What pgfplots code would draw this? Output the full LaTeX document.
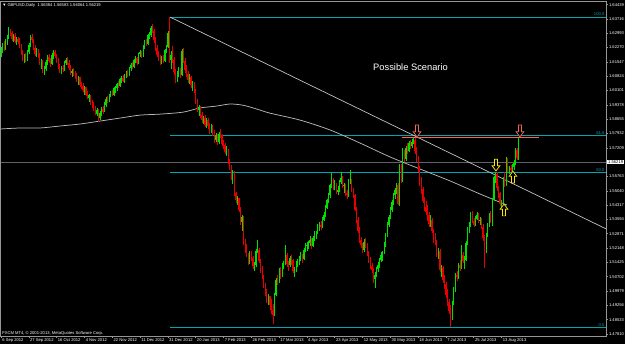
\documentclass[border=0pt]{standalone}
\usepackage{fontspec}
\setmainfont{Liberation Sans}
\usepackage{pgfplots}
\usepackage{pgfplotstable}
\pgfplotsset{compat=1.18}
\definecolor{cgreen}{RGB}{0,225,0}
\definecolor{cred}{RGB}{230,0,0}
\definecolor{fibc}{RGB}{0,165,175}
\definecolor{salm}{RGB}{240,105,85}
\definecolor{ylw}{RGB}{255,230,0}
\definecolor{axc}{RGB}{150,150,150}
\definecolor{trc}{RGB}{200,200,200}
\definecolor{mac}{RGB}{185,185,185}
\definecolor{cpl}{RGB}{95,98,105}
\pgfdeclareplotmark{dnarrow}{%
 \pgfpathmoveto{\pgfqpoint{-1.1pt}{4.4pt}}%
 \pgfpathlineto{\pgfqpoint{1.1pt}{4.4pt}}%
 \pgfpathlineto{\pgfqpoint{1.1pt}{-0.6pt}}%
 \pgfpathlineto{\pgfqpoint{2.9pt}{-0.6pt}}%
 \pgfpathlineto{\pgfqpoint{0pt}{-4.4pt}}%
 \pgfpathlineto{\pgfqpoint{-2.9pt}{-0.6pt}}%
 \pgfpathlineto{\pgfqpoint{-1.1pt}{-0.6pt}}%
 \pgfpathclose\pgfusepathqfillstroke}
\pgfdeclareplotmark{uparrow}{%
 \pgfpathmoveto{\pgfqpoint{-1.1pt}{-4.4pt}}%
 \pgfpathlineto{\pgfqpoint{1.1pt}{-4.4pt}}%
 \pgfpathlineto{\pgfqpoint{1.1pt}{0.6pt}}%
 \pgfpathlineto{\pgfqpoint{2.9pt}{0.6pt}}%
 \pgfpathlineto{\pgfqpoint{0pt}{4.4pt}}%
 \pgfpathlineto{\pgfqpoint{-2.9pt}{0.6pt}}%
 \pgfpathlineto{\pgfqpoint{-1.1pt}{0.6pt}}%
 \pgfpathclose\pgfusepathqfillstroke}
\pgfplotstableread{
o h l c
1.6195 1.6230 1.6180 1.6214
1.6214 1.6250 1.6200 1.6235
1.6235 1.6262 1.6210 1.6220
1.6220 1.6268 1.6215 1.6255
1.6255 1.6290 1.6240 1.6280
1.6280 1.6330 1.6270 1.6318
1.6318 1.6322 1.6285 1.6300
1.6300 1.6310 1.6260 1.6270
1.6270 1.6295 1.6255 1.6285
1.6285 1.6300 1.6250 1.6262
1.6262 1.6280 1.6240 1.6270
1.6270 1.6282 1.6245 1.6255
1.6255 1.6275 1.6225 1.6235
1.6235 1.6245 1.6190 1.6200
1.6200 1.6215 1.6160 1.6170
1.6170 1.6195 1.6150 1.6185
1.6185 1.6200 1.6155 1.6164
1.6164 1.6215 1.6160 1.6205
1.6205 1.6250 1.6195 1.6240
1.6240 1.6290 1.6230 1.6280
1.6280 1.6295 1.6250 1.6265
1.6265 1.6270 1.6215 1.6225
1.6225 1.6240 1.6185 1.6195
1.6195 1.6225 1.6180 1.6210
1.6210 1.6220 1.6175 1.6189
1.6189 1.6200 1.6140 1.6150
1.6150 1.6170 1.6120 1.6160
1.6160 1.6165 1.6100 1.6110
1.6110 1.6135 1.6090 1.6120
1.6120 1.6165 1.6110 1.6155
1.6155 1.6190 1.6140 1.6180
1.6180 1.6195 1.6150 1.6160
1.6160 1.6175 1.6130 1.6145
1.6145 1.6200 1.6140 1.6190
1.6190 1.6215 1.6170 1.6205
1.6205 1.6215 1.6175 1.6185
1.6185 1.6195 1.6150 1.6160
1.6160 1.6175 1.6120 1.6130
1.6130 1.6145 1.6100 1.6110
1.6110 1.6135 1.6095 1.6125
1.6125 1.6140 1.6105 1.6118
1.6118 1.6160 1.6110 1.6150
1.6150 1.6175 1.6140 1.6165
1.6165 1.6180 1.6140 1.6150
1.6150 1.6165 1.6115 1.6125
1.6125 1.6140 1.6090 1.6100
1.6100 1.6120 1.6080 1.6110
1.6110 1.6125 1.6085 1.6095
1.6095 1.6110 1.6070 1.6080
1.6080 1.6100 1.6055 1.6065
1.6065 1.6085 1.6040 1.6075
1.6075 1.6080 1.6030 1.6040
1.6040 1.6055 1.6020 1.6030
1.6030 1.6050 1.6005 1.6015
1.6015 1.6035 1.5990 1.6025
1.6025 1.6030 1.5980 1.5990
1.5990 1.6010 1.5965 1.5975
1.5975 1.5995 1.5950 1.5985
1.5985 1.5990 1.5935 1.5945
1.5945 1.5960 1.5920 1.5930
1.5930 1.5950 1.5905 1.5915
1.5915 1.5930 1.5885 1.5895
1.5895 1.5920 1.5880 1.5910
1.5910 1.5915 1.5852 1.5870
1.5870 1.5905 1.5860 1.5895
1.5895 1.5925 1.5880 1.5915
1.5915 1.5930 1.5890 1.5905
1.5905 1.5950 1.5900 1.5940
1.5940 1.5975 1.5925 1.5965
1.5965 1.5980 1.5945 1.5955
1.5955 1.5995 1.5950 1.5987
1.5987 1.6010 1.5975 1.6000
1.6000 1.6015 1.5980 1.5990
1.5990 1.6030 1.5985 1.6020
1.6020 1.6035 1.6000 1.6023
1.6023 1.6050 1.6010 1.6040
1.6040 1.6060 1.6025 1.6035
1.6035 1.6075 1.6030 1.6068
1.6068 1.6085 1.6050 1.6073
1.6073 1.6090 1.6055 1.6060
1.6060 1.6095 1.6050 1.6088
1.6088 1.6110 1.6075 1.6103
1.6103 1.6115 1.6080 1.6090
1.6090 1.6130 1.6085 1.6125
1.6125 1.6150 1.6110 1.6139
1.6139 1.6155 1.6120 1.6130
1.6130 1.6170 1.6125 1.6165
1.6165 1.6185 1.6150 1.6174
1.6174 1.6180 1.6140 1.6150
1.6150 1.6200 1.6145 1.6195
1.6195 1.6215 1.6180 1.6204
1.6204 1.6210 1.6175 1.6185
1.6185 1.6240 1.6180 1.6230
1.6230 1.6265 1.6220 1.6255
1.6255 1.6270 1.6235 1.6245
1.6245 1.6295 1.6240 1.6288
1.6288 1.6305 1.6270 1.6290
1.6290 1.6335 1.6280 1.6325
1.6325 1.6345 1.6300 1.6310
1.6310 1.6320 1.6250 1.6265
1.6265 1.6280 1.6210 1.6225
1.6225 1.6240 1.6180 1.6190
1.6190 1.6210 1.6160 1.6175
1.6175 1.6190 1.6140 1.6154
1.6154 1.6185 1.6145 1.6170
1.6170 1.6190 1.6150 1.6160
1.6160 1.6220 1.6155 1.6214
1.6214 1.6240 1.6200 1.6230
1.6230 1.6310 1.6225 1.6300
1.6378 1.6381 1.6150 1.6165
1.6165 1.6210 1.6120 1.6190
1.6190 1.6235 1.6150 1.6164
1.6164 1.6180 1.6090 1.6105
1.6105 1.6120 1.6050 1.6063
1.6063 1.6110 1.6055 1.6095
1.6095 1.6130 1.6080 1.6113
1.6113 1.6125 1.6075 1.6090
1.6090 1.6220 1.6085 1.6210
1.6210 1.6225 1.6150 1.6160
1.6160 1.6175 1.6100 1.6113
1.6113 1.6140 1.6080 1.6095
1.6095 1.6110 1.6050 1.6063
1.6063 1.6095 1.6045 1.6075
1.6075 1.6085 1.6025 1.6038
1.6038 1.6060 1.6010 1.6045
1.6045 1.6055 1.6000 1.6013
1.6013 1.6020 1.5940 1.5950
1.5950 1.5965 1.5900 1.5912
1.5912 1.5935 1.5880 1.5925
1.5925 1.5930 1.5870 1.5886
1.5886 1.5900 1.5845 1.5860
1.5860 1.5880 1.5840 1.5871
1.5871 1.5885 1.5825 1.5836
1.5836 1.5870 1.5820 1.5860
1.5860 1.5870 1.5815 1.5830
1.5830 1.5845 1.5790 1.5805
1.5805 1.5840 1.5795 1.5825
1.5825 1.5835 1.5780 1.5800
1.5800 1.5810 1.5745 1.5760
1.5760 1.5795 1.5750 1.5785
1.5785 1.5790 1.5735 1.5750
1.5750 1.5800 1.5740 1.5790
1.5790 1.5815 1.5770 1.5786
1.5786 1.5790 1.5730 1.5740
1.5740 1.5760 1.5715 1.5735
1.5735 1.5745 1.5690 1.5700
1.5700 1.5730 1.5680 1.5710
1.5710 1.5715 1.5640 1.5650
1.5650 1.5665 1.5610 1.5625
1.5625 1.5635 1.5560 1.5570
1.5570 1.5610 1.5540 1.5600
1.5600 1.5605 1.5480 1.5490
1.5490 1.5500 1.5440 1.5457
1.5457 1.5480 1.5430 1.5465
1.5465 1.5470 1.5395 1.5407
1.5407 1.5420 1.5330 1.5345
1.5345 1.5380 1.5300 1.5370
1.5370 1.5375 1.5230 1.5245
1.5245 1.5260 1.5190 1.5205
1.5205 1.5235 1.5170 1.5180
1.5180 1.5190 1.5130 1.5145
1.5145 1.5200 1.5135 1.5185
1.5185 1.5200 1.5150 1.5165
1.5165 1.5175 1.5110 1.5125
1.5125 1.5145 1.5100 1.5129
1.5129 1.5210 1.5120 1.5200
1.5200 1.5255 1.5190 1.5205
1.5205 1.5215 1.5140 1.5150
1.5150 1.5160 1.5090 1.5104
1.5104 1.5125 1.5060 1.5070
1.5070 1.5080 1.5015 1.5029
1.5029 1.5040 1.4975 1.4990
1.4990 1.5010 1.4940 1.4953
1.4953 1.4985 1.4930 1.4970
1.4970 1.4975 1.4900 1.4928
1.4928 1.4960 1.4880 1.4900
1.4900 1.4935 1.4830 1.4880
1.4880 1.4990 1.4870 1.4980
1.4980 1.5065 1.4975 1.5054
1.5054 1.5080 1.5030 1.5045
1.5045 1.5115 1.5040 1.5104
1.5104 1.5120 1.5060 1.5075
1.5075 1.5140 1.5070 1.5129
1.5129 1.5150 1.5110 1.5140
1.5140 1.5230 1.5130 1.5180
1.5180 1.5190 1.5120 1.5135
1.5135 1.5150 1.5100 1.5129
1.5129 1.5175 1.5120 1.5165
1.5165 1.5180 1.5130 1.5155
1.5155 1.5160 1.5090 1.5100
1.5100 1.5120 1.5070 1.5104
1.5104 1.5150 1.5095 1.5140
1.5140 1.5160 1.5120 1.5145
1.5145 1.5175 1.5130 1.5168
1.5168 1.5195 1.5150 1.5180
1.5180 1.5185 1.5140 1.5160
1.5160 1.5215 1.5155 1.5205
1.5205 1.5240 1.5195 1.5225
1.5225 1.5245 1.5200 1.5230
1.5230 1.5250 1.5210 1.5240
1.5240 1.5275 1.5225 1.5256
1.5256 1.5265 1.5210 1.5225
1.5225 1.5275 1.5220 1.5265
1.5265 1.5300 1.5250 1.5281
1.5281 1.5300 1.5260 1.5290
1.5290 1.5335 1.5285 1.5320
1.5320 1.5345 1.5300 1.5331
1.5331 1.5350 1.5305 1.5320
1.5320 1.5370 1.5315 1.5360
1.5360 1.5395 1.5350 1.5382
1.5382 1.5430 1.5370 1.5420
1.5420 1.5465 1.5410 1.5455
1.5455 1.5495 1.5440 1.5483
1.5483 1.5540 1.5470 1.5530
1.5530 1.5595 1.5520 1.5558
1.5558 1.5570 1.5510 1.5525
1.5525 1.5560 1.5510 1.5533
1.5533 1.5545 1.5490 1.5500
1.5500 1.5530 1.5485 1.5508
1.5508 1.5560 1.5500 1.5550
1.5550 1.5600 1.5540 1.5569
1.5569 1.5580 1.5520 1.5530
1.5530 1.5545 1.5495 1.5533
1.5533 1.5540 1.5480 1.5490
1.5490 1.5510 1.5465 1.5483
1.5483 1.5565 1.5475 1.5550
1.5550 1.5610 1.5540 1.5558
1.5558 1.5565 1.5500 1.5510
1.5510 1.5520 1.5470 1.5483
1.5483 1.5490 1.5400 1.5410
1.5410 1.5420 1.5340 1.5357
1.5357 1.5370 1.5290 1.5300
1.5300 1.5320 1.5240 1.5256
1.5256 1.5270 1.5215 1.5230
1.5230 1.5240 1.5190 1.5205
1.5205 1.5260 1.5195 1.5245
1.5245 1.5265 1.5215 1.5230
1.5230 1.5240 1.5175 1.5185
1.5185 1.5200 1.5140 1.5155
1.5155 1.5170 1.5110 1.5125
1.5125 1.5140 1.5090 1.5104
1.5104 1.5115 1.5040 1.5060
1.5060 1.5095 1.5014 1.5079
1.5079 1.5120 1.5070 1.5110
1.5110 1.5145 1.5095 1.5129
1.5129 1.5165 1.5115 1.5155
1.5155 1.5195 1.5145 1.5180
1.5180 1.5200 1.5150 1.5195
1.5195 1.5245 1.5185 1.5230
1.5230 1.5290 1.5220 1.5280
1.5280 1.5345 1.5270 1.5331
1.5331 1.5380 1.5320 1.5370
1.5370 1.5420 1.5360 1.5407
1.5407 1.5455 1.5395 1.5445
1.5445 1.5495 1.5430 1.5483
1.5483 1.5520 1.5465 1.5505
1.5505 1.5545 1.5490 1.5533
1.5533 1.5545 1.5430 1.5440
1.5440 1.5640 1.5425 1.5630
1.5630 1.5640 1.5545 1.5560
1.5560 1.5720 1.5550 1.5690
1.5690 1.5710 1.5650 1.5665
1.5665 1.5730 1.5655 1.5720
1.5720 1.5745 1.5690 1.5705
1.5705 1.5755 1.5700 1.5745
1.5745 1.5760 1.5715 1.5730
1.5730 1.5765 1.5720 1.5750
1.5750 1.5775 1.5740 1.5760
1.5760 1.5775 1.5690 1.5705
1.5705 1.5725 1.5650 1.5665
1.5665 1.5680 1.5600 1.5615
1.5615 1.5630 1.5530 1.5545
1.5545 1.5575 1.5490 1.5510
1.5510 1.5525 1.5440 1.5455
1.5455 1.5475 1.5400 1.5420
1.5420 1.5450 1.5380 1.5400
1.5400 1.5430 1.5350 1.5380
1.5380 1.5395 1.5320 1.5335
1.5335 1.5380 1.5320 1.5357
1.5357 1.5365 1.5290 1.5300
1.5300 1.5310 1.5240 1.5256
1.5256 1.5290 1.5230 1.5245
1.5245 1.5255 1.5170 1.5180
1.5180 1.5215 1.5160 1.5200
1.5200 1.5210 1.5095 1.5104
1.5104 1.5130 1.5070 1.5115
1.5115 1.5125 1.5040 1.5054
1.5054 1.5080 1.5010 1.5030
1.5030 1.5045 1.4965 1.4978
1.4978 1.5010 1.4920 1.4940
1.4940 1.4960 1.4880 1.4900
1.4900 1.4925 1.4814 1.4860
1.4860 1.4950 1.4850 1.4940
1.4940 1.5020 1.4930 1.5003
1.5003 1.5090 1.4995 1.5079
1.5079 1.5100 1.5050 1.5070
1.5070 1.5140 1.5060 1.5129
1.5129 1.5155 1.5100 1.5115
1.5115 1.5230 1.5110 1.5180
1.5180 1.5195 1.5140 1.5150
1.5150 1.5175 1.5110 1.5155
1.5155 1.5250 1.5150 1.5240
1.5240 1.5320 1.5230 1.5306
1.5306 1.5345 1.5290 1.5330
1.5330 1.5395 1.5320 1.5382
1.5382 1.5400 1.5340 1.5350
1.5350 1.5365 1.5320 1.5331
1.5331 1.5375 1.5325 1.5365
1.5365 1.5395 1.5355 1.5382
1.5382 1.5390 1.5340 1.5350
1.5350 1.5370 1.5330 1.5357
1.5357 1.5365 1.5310 1.5320
1.5320 1.5335 1.5250 1.5265
1.5265 1.5280 1.5115 1.5200
1.5200 1.5290 1.5190 1.5281
1.5281 1.5340 1.5270 1.5330
1.5330 1.5390 1.5320 1.5382
1.5382 1.5400 1.5340 1.5360
1.5340 1.5470 1.5325 1.5457
1.5457 1.5580 1.5450 1.5571
1.5571 1.5600 1.5545 1.5590
1.5590 1.5600 1.5505 1.5518
1.5518 1.5530 1.5470 1.5490
1.5490 1.5500 1.5425 1.5440
1.5440 1.5460 1.5415 1.5450
1.5450 1.5575 1.5440 1.5565
1.5565 1.5600 1.5525 1.5540
1.5540 1.5675 1.5530 1.5665
1.5665 1.5670 1.5600 1.5609
1.5609 1.5630 1.5590 1.5620
1.5620 1.5635 1.5600 1.5612
1.5612 1.5640 1.5600 1.5625
1.5625 1.5660 1.5610 1.5644
1.5644 1.5720 1.5635 1.5710
1.5710 1.5720 1.5660 1.5669
1.5669 1.5775 1.5660 1.5772
}\candles
\begin{document}
\begin{tikzpicture}
\useasboundingbox (0,0) rectangle (468.75pt,258pt);
\fill[black] (0,0) rectangle (468.75pt,258pt);
\begin{axis}[
  at={(0.375pt,6pt)}, anchor=south west,
  scale only axis, width=454.1pt, height=251.25pt,
  xmin=-0.32, xmax=391.6, ymin=1.4771, ymax=1.6462,
  axis line style={axc, line width=0.5pt},
  tick style={axc, line width=0.4pt},
  major tick length=1.5pt, tick align=outside,
  ytick pos=right, yticklabel pos=right, xtick pos=bottom,
  scaled y ticks=false,
  ytick={1.47810,1.48533,1.49256,1.49979,1.50702,1.51425,1.52148,1.52871,1.53594,1.54317,1.55040,1.55763,1.57209,1.57932,1.58655,1.59378,1.60101,1.60824,1.61547,1.62270,1.62993,1.63716,1.64439},
  yticklabel={\pgfmathprintnumber[fixed,precision=5,zerofill,assume math mode=true]{\tick}},
  yticklabel style={font=\fontsize{3.1}{3.5}\selectfont, text=white, anchor=west, inner sep=0.6pt},
  xtick={0,18,...,324},
  xticklabels={6 Sep 2012,27 Sep 2012,16 Oct 2012,4 Nov 2012,22 Nov 2012,11 Dec 2012,31 Dec 2012,20 Jan 2013,7 Feb 2013,26 Feb 2013,17 Mar 2013,4 Apr 2013,23 Apr 2013,12 May 2013,30 May 2013,18 Jun 2013,7 Jul 2013,25 Jul 2013,13 Aug 2013},
  xticklabel style={font=\fontsize{3.1}{3.5}\selectfont, text=white, anchor=north west, inner sep=0.5pt, xshift=0.3pt},
]
% reference lines
\addplot[draw=cpl, line width=0.75pt] coordinates {(-0.32,1.5649) (391.6,1.5649)};
\addplot[draw=fibc, line width=0.75pt] coordinates {(109.4,1.6381) (391.6,1.6381)};
\addplot[draw=fibc, line width=0.75pt] coordinates {(109.4,1.5782) (391.6,1.5782)};
\addplot[draw=fibc, line width=0.75pt] coordinates {(109.4,1.5598) (391.6,1.5598)};
\addplot[draw=fibc, line width=0.75pt] coordinates {(109.4,1.4814) (391.6,1.4814)};
% moving average
\addplot[draw=mac, line width=0.55pt, smooth] coordinates {
(-0.3,1.5816) (12.3,1.5821) (25.2,1.5821) (38.2,1.5831) (51.1,1.5841) (64.1,1.5856)
(77,1.5871) (90,1.5886) (102.9,1.5891) (117.8,1.5901) (128.8,1.5922) (139.8,1.5932)
(148.2,1.5942) (156.6,1.5936) (165,1.5918) (174.1,1.5896) (193.5,1.5861) (213,1.5811)
(232.4,1.5745) (251.8,1.5675) (271.2,1.5614) (290.6,1.5554) (310,1.5488) (327.5,1.5432)};
% trendline
\addplot[draw=trc, line width=0.5pt] coordinates {(109.4,1.6381) (391.6,1.5312)};
% candle wicks
\addplot[draw=none, mark=none, forget plot,
  restrict expr to domain={\thisrow{c}-\thisrow{o}}{0:1},
  error bars/.cd, y dir=minus, y explicit, error mark=none,
  error bar style={cgreen, line width=0.35pt}]
  table[x expr=\coordindex, y=h, y error minus expr=\thisrow{h}-\thisrow{l}] {\candles};
\addplot[draw=none, mark=none, forget plot,
  restrict expr to domain={\thisrow{c}-\thisrow{o}}{-1:0},
  error bars/.cd, y dir=minus, y explicit, error mark=none,
  error bar style={cred, line width=0.35pt}]
  table[x expr=\coordindex, y=h, y error minus expr=\thisrow{h}-\thisrow{l}] {\candles};
% candle bodies
\addplot[draw=none, mark=none, forget plot,
  restrict expr to domain={\thisrow{c}-\thisrow{o}}{0:1},
  error bars/.cd, y dir=minus, y explicit, error mark=none,
  error bar style={cgreen, line width=0.85pt}]
  table[x expr=\coordindex, y expr={max(\thisrow{o},\thisrow{c})+0.0001}, y error minus expr={abs(\thisrow{c}-\thisrow{o})+0.0002}] {\candles};
\addplot[draw=none, mark=none, forget plot,
  restrict expr to domain={\thisrow{c}-\thisrow{o}}{-1:0},
  error bars/.cd, y dir=minus, y explicit, error mark=none,
  error bar style={cred, line width=0.85pt}]
  table[x expr=\coordindex, y expr={max(\thisrow{o},\thisrow{c})+0.0001}, y error minus expr={abs(\thisrow{c}-\thisrow{o})+0.0002}] {\candles};
% resistance line
\addplot[draw=salm, line width=1.2pt] coordinates {(259.5,1.5772) (348.2,1.5772)};
% arrows
\addplot[only marks, mark=dnarrow, mark options={draw=salm, fill=black, line width=0.55pt}] coordinates {(269.3,1.5806) (335.9,1.5806)};
\addplot[only marks, mark=dnarrow, mark options={draw=ylw, fill=black, line width=0.55pt}] coordinates {(320.4,1.5634)};
\addplot[only marks, mark=uparrow, mark options={draw=ylw, fill=black, line width=0.55pt}] coordinates {(331.4,1.5573) (325.6,1.5407)};
\end{axis}
% texts
\node[anchor=west, text=white, font=\fontsize{3.1}{3.5}\selectfont, inner sep=0pt] at (1.5pt,254.3pt) {▼ GBPUSD,Daily\ \ 1.56384 1.56583 1.56064 1.56219};
\node[anchor=west, text=white, font=\fontsize{3.1}{3.5}\selectfont, inner sep=0pt] at (1.5pt,8.3pt) {FXCM MT4, © 2001-2013, MetaQuotes Software Corp.};
\node[text=white, font=\fontsize{7}{8}\selectfont, inner sep=0pt] at (307.9pt,207.8pt) {Possible Scenario};
\node[anchor=south east, text=fibc, font=\fontsize{3.1}{3.5}\selectfont, inner sep=0.3pt] at (453.75pt,245.6pt) {100.0};
\node[anchor=south east, text=fibc, font=\fontsize{3.1}{3.5}\selectfont, inner sep=0.3pt] at (453.75pt,156.4pt) {61.8};
\node[anchor=south east, text=fibc, font=\fontsize{3.1}{3.5}\selectfont, inner sep=0.3pt] at (453.75pt,129pt) {50.0};
\node[anchor=south east, text=fibc, font=\fontsize{3.1}{3.5}\selectfont, inner sep=0.3pt] at (453.75pt,12.75pt) {0.0};
\node[anchor=west, fill=white, text=black, font=\fontsize{3.1}{3.5}\selectfont, inner sep=0.6pt, minimum width=12.5pt] at (455.3pt,136.5pt) {1.56219};
\end{tikzpicture}
\end{document}
